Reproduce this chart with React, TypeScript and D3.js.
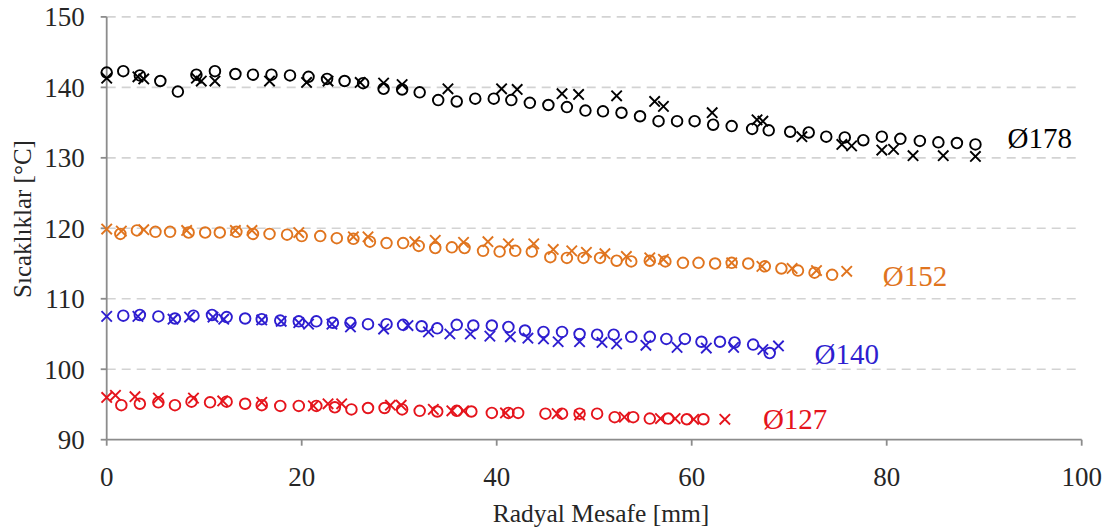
import React from "react";
import * as d3 from "d3";

const W = 1112;
const H = 529;

const xTicks = [0, 20, 40, 60, 80, 100];
const yTicks = [90, 100, 110, 120, 130, 140, 150];

// Ø178 (black)
const s178CircleX = [0, 1.7, 3.4, 5.5, 7.3, 9.2, 11.1, 13.2, 15.0, 16.9, 18.8, 20.7, 22.6, 24.4, 26.3, 28.4, 30.3, 32.1, 34.0, 35.9, 37.8, 39.7, 41.5, 43.4, 45.3, 47.2, 49.1, 50.9, 52.8, 54.7, 56.6, 58.5, 60.3, 62.2, 64.1, 66.2, 67.9, 70.1, 72.0, 73.8, 75.7, 77.6, 79.5, 81.4, 83.4, 85.3, 87.2, 89.1];
const s178CircleY = [142.1, 142.3, 141.7, 140.9, 139.4, 141.8, 142.3, 141.9, 141.8, 141.8, 141.7, 141.5, 141.2, 140.9, 140.6, 139.8, 139.7, 139.3, 138.2, 138.0, 138.4, 138.4, 138.2, 137.8, 137.5, 137.2, 136.7, 136.6, 136.4, 135.9, 135.2, 135.2, 135.2, 134.7, 134.5, 134.1, 133.9, 133.7, 133.6, 133.0, 132.9, 132.5, 133.0, 132.7, 132.4, 132.2, 132.1, 131.9];
const s178CrossX = [0, 3.2, 3.8, 9.2, 9.7, 11.1, 16.7, 20.5, 22.7, 26.0, 28.4, 30.3, 35.0, 40.5, 42.1, 46.7, 48.4, 52.3, 56.2, 57.1, 62.1, 66.7, 67.3, 71.3, 75.4, 76.4, 79.5, 80.7, 82.7, 85.8, 89.1];
const s178CrossY = [141.3, 141.5, 141.2, 141.3, 140.9, 140.9, 140.9, 140.7, 140.9, 140.7, 140.6, 140.4, 139.8, 139.8, 139.7, 139.1, 139.0, 138.8, 138.0, 137.3, 136.4, 135.4, 135.2, 133.0, 131.9, 131.7, 131.1, 131.2, 130.3, 130.3, 130.2];

// Ø152 (orange)
const s152CircleX = [1.4, 3.1, 5.0, 6.5, 8.4, 10.1, 11.6, 13.3, 15.0, 16.7, 18.5, 20.0, 21.9, 23.6, 25.3, 27.0, 28.7, 30.4, 32.0, 33.7, 35.4, 36.7, 38.6, 40.3, 41.9, 43.6, 45.5, 47.2, 48.9, 50.6, 52.3, 53.8, 55.7, 57.3, 59.1, 60.7, 62.4, 64.1, 65.8, 67.5, 69.2, 70.9, 72.6, 74.4];
const s152CircleY = [119.2, 119.7, 119.5, 119.5, 119.4, 119.4, 119.4, 119.5, 119.2, 119.2, 119.1, 118.9, 118.9, 118.6, 118.5, 118.1, 117.9, 117.9, 117.5, 117.2, 117.3, 117.2, 116.8, 116.7, 116.8, 116.7, 115.9, 115.8, 115.8, 115.8, 115.4, 115.3, 115.4, 115.3, 115.1, 115.1, 115.0, 115.1, 115.0, 114.6, 114.3, 114.0, 113.7, 113.4];
const s152CrossX = [0, 1.5, 3.8, 8.2, 13.2, 14.9, 19.7, 25.3, 26.8, 31.6, 33.7, 36.6, 39.1, 41.2, 43.8, 45.8, 47.7, 49.2, 51.1, 53.3, 55.7, 57.1, 64.1, 67.2, 70.3, 72.8, 75.9];
const s152CrossY = [119.9, 119.6, 119.8, 119.7, 119.7, 119.7, 119.4, 118.8, 118.8, 118.1, 118.3, 118.0, 118.1, 117.8, 117.8, 117.0, 116.8, 116.6, 116.4, 116.0, 115.8, 115.6, 115.1, 114.6, 114.3, 114.0, 113.9];

// Ø140 (blue)
const s140CircleX = [1.7, 3.4, 5.3, 7.0, 8.9, 10.8, 12.3, 14.2, 15.9, 17.8, 19.7, 21.5, 23.2, 25.0, 26.8, 28.7, 30.4, 32.3, 33.9, 35.9, 37.6, 39.5, 41.2, 42.9, 44.8, 46.7, 48.5, 50.3, 52.0, 53.8, 55.7, 57.4, 59.3, 61.0, 62.9, 64.4, 66.3, 68.0];
const s140CircleY = [107.6, 107.7, 107.5, 107.2, 107.6, 107.7, 107.4, 107.2, 107.1, 106.9, 106.8, 106.8, 106.6, 106.6, 106.4, 106.4, 106.3, 106.1, 105.8, 106.3, 106.2, 106.2, 106.0, 105.5, 105.3, 105.3, 105.0, 104.9, 104.9, 104.6, 104.6, 104.3, 104.3, 103.9, 103.9, 103.8, 103.5, 102.3];
const s140CrossX = [0, 3.2, 6.8, 8.5, 10.9, 12.0, 15.9, 17.9, 19.7, 20.7, 23.1, 25.0, 28.4, 30.9, 33.0, 35.2, 37.3, 39.3, 41.4, 43.2, 44.8, 46.3, 48.5, 50.8, 52.3, 55.3, 58.5, 61.5, 64.3, 67.3, 68.9];
const s140CrossY = [107.5, 107.5, 107.1, 107.4, 107.4, 107.1, 107.0, 106.8, 106.6, 106.4, 106.4, 106.0, 105.7, 106.2, 105.3, 105.0, 105.0, 104.7, 104.6, 104.4, 104.3, 103.9, 103.9, 103.8, 103.6, 103.4, 103.1, 103.0, 103.1, 102.8, 103.3];

// Ø127 (red)
const s127CircleX = [1.5, 3.4, 5.3, 7.0, 8.7, 10.6, 12.3, 14.2, 15.9, 17.8, 19.7, 21.5, 23.4, 25.1, 26.8, 28.5, 30.3, 32.1, 33.9, 35.9, 37.4, 39.5, 41.2, 42.2, 45.0, 46.7, 48.5, 50.3, 52.1, 54.0, 55.7, 57.6, 59.5, 61.2];
const s127CircleY = [94.9, 95.1, 95.3, 94.9, 95.4, 95.3, 95.4, 95.1, 94.9, 94.8, 94.8, 94.8, 94.6, 94.3, 94.5, 94.5, 94.3, 94.1, 94.0, 94.1, 94.0, 93.8, 93.8, 93.8, 93.7, 93.7, 93.7, 93.7, 93.2, 93.2, 93.0, 93.0, 92.9, 92.9];
const s127CrossX = [0, 0.9, 2.9, 5.3, 8.9, 11.9, 15.9, 21.2, 22.7, 24.1, 29.1, 30.2, 33.5, 35.4, 36.6, 40.9, 46.2, 48.5, 53.1, 56.8, 58.3, 60.2, 63.4];
const s127CrossY = [96.0, 96.3, 96.1, 95.9, 95.9, 95.5, 95.3, 94.8, 95.1, 95.1, 94.9, 94.9, 94.3, 94.1, 94.1, 93.8, 93.7, 93.5, 93.2, 93.0, 93.0, 92.9, 92.9];

const labelText = ["Ø178", "Ø152", "Ø140", "Ø127"];
const labelX = [92.4, 79.6, 72.6, 67.3];
const labelY = [131.4, 111.8, 100.7, 91.5];

const series = [
  { color: "#000000", cx: s178CircleX, cy: s178CircleY, xx: s178CrossX, xy: s178CrossY },
  { color: "#E0741E", cx: s152CircleX, cy: s152CircleY, xx: s152CrossX, xy: s152CrossY },
  { color: "#2E1ED0", cx: s140CircleX, cy: s140CircleY, xx: s140CrossX, xy: s140CrossY },
  { color: "#E5141C", cx: s127CircleX, cy: s127CircleY, xx: s127CrossX, xy: s127CrossY },
];

export default function App() {
  const left = 106.7;
  const right = 1081.7;
  const top = 16.9;
  const bottom = 439.7;
  const x = d3.scaleLinear().domain([0, 100]).range([left, right]);
  const y = d3.scaleLinear().domain([90, 150]).range([bottom, top]);
  const font = "'Liberation Serif', 'Times New Roman', serif";
  const r = 5.3;
  const c = 5.2;

  return (
    <svg
      width={W}
      height={H}
      style={{ position: "absolute", left: 0, top: 0, background: "#fff" }}
      fontFamily={font}
    >
      <rect x={0} y={0} width={W} height={H} fill="#fff" />
      {yTicks.filter((t) => t > 90).map((t) => (
        <line key={"g" + t} x1={left} x2={right} y1={y(t)} y2={y(t)} stroke="#D3D3D3" strokeWidth={1.6} strokeDasharray="9,6" />
      ))}
      <line x1={left} x2={left} y1={top} y2={bottom} stroke="#8C8C8C" strokeWidth={1.8} />
      <line x1={left} x2={right} y1={bottom} y2={bottom} stroke="#8C8C8C" strokeWidth={1.8} />
      {yTicks.map((t) => (
        <g key={"yt" + t}>
          <line x1={left - 6} x2={left} y1={y(t)} y2={y(t)} stroke="#8C8C8C" strokeWidth={1.8} />
          <text x={left - 22} y={y(t)} dy="0.35em" textAnchor="end" fontSize={27} fill="#262626">
            {t}
          </text>
        </g>
      ))}
      {xTicks.map((t) => (
        <g key={"xt" + t}>
          <line x1={x(t)} x2={x(t)} y1={bottom} y2={bottom + 6} stroke="#8C8C8C" strokeWidth={1.8} />
          <text x={x(t)} y={bottom + 46} textAnchor="middle" fontSize={27} fill="#262626">
            {t}
          </text>
        </g>
      ))}
      <text x={601} y={522} textAnchor="middle" fontSize={25.5} fill="#262626">
        Radyal Mesafe [mm]
      </text>
      <text
        transform={`translate(31, 219) rotate(-90)`}
        textAnchor="middle"
        fontSize={25}
        fill="#262626"
      >
        Sıcaklıklar [°C]
      </text>
      {series.map((s, i) => (
        <g key={"s" + i}>
          {s.cx.map((v, j) => (
            <circle key={"c" + j} cx={x(v)} cy={y(s.cy[j])} r={r} fill="none" stroke={s.color} strokeWidth={1.9} />
          ))}
          {s.xx.map((v, j) => {
            const px = x(v);
            const py = y(s.xy[j]);
            return (
              <path
                key={"x" + j}
                d={`M${px - c},${py - c}L${px + c},${py + c}M${px - c},${py + c}L${px + c},${py - c}`}
                stroke={s.color}
                strokeWidth={1.9}
                fill="none"
              />
            );
          })}
          <text x={x(labelX[i])} y={y(labelY[i])} fontSize={29} fill={s.color}>
            {labelText[i]}
          </text>
        </g>
      ))}
    </svg>
  );
}
